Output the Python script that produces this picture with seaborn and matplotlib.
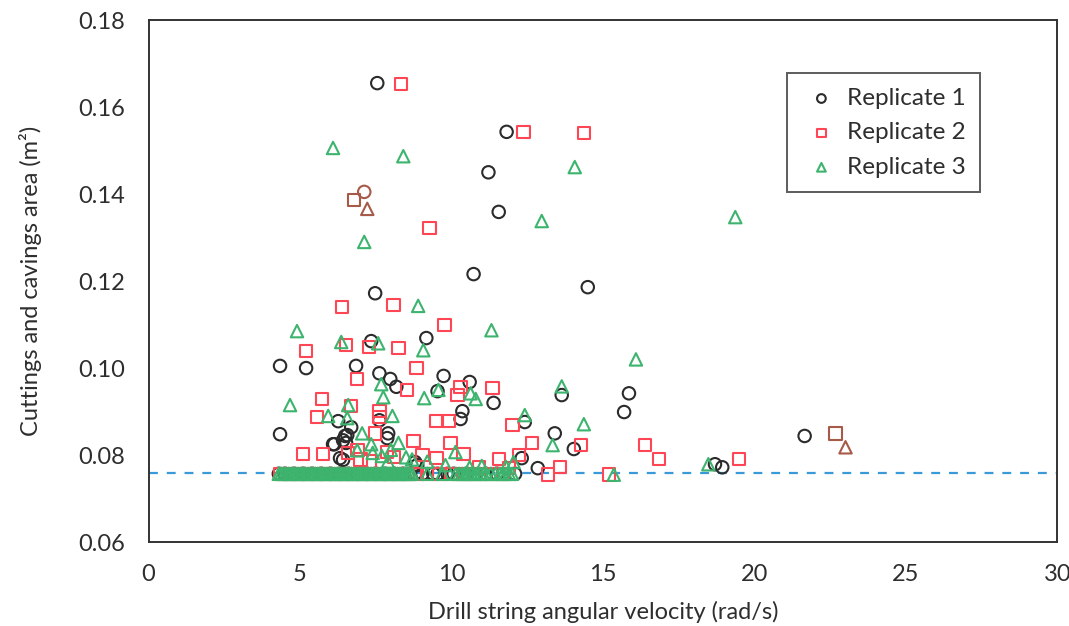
import numpy as np
import pandas as pd
import seaborn as sns
import matplotlib.pyplot as plt
from matplotlib.ticker import MultipleLocator

# --- data ---
rep1_x = [7.55, 11.82, 11.22, 11.56, 10.73, 7.48, 14.5, 7.35, 9.17, 4.34, 5.2, 6.85,
          7.62, 7.98, 8.18, 9.74, 9.54, 10.6, 11.39, 13.64, 15.86, 15.7, 6.26, 6.69,
          7.62, 7.88, 6.49, 6.52, 6.13, 10.3, 10.36, 4.34, 6.42, 8.8, 12.42, 13.41,
          14.04, 12.32, 12.85, 21.66, 18.7, 18.94, 6.09, 6.42, 6.56, 7.91, 8.87, 6.32]
rep1_y = [0.1655, 0.1543, 0.1450, 0.1359, 0.1216, 0.1172, 0.1186, 0.1062, 0.1069, 0.1005, 0.1000, 0.1005,
          0.0988, 0.0975, 0.0957, 0.0982, 0.0947, 0.0968, 0.0920, 0.0938, 0.0942, 0.0899, 0.0878, 0.0864,
          0.0880, 0.0839, 0.0844, 0.0828, 0.0825, 0.0883, 0.0901, 0.0848, 0.0789, 0.0784, 0.0876, 0.0850,
          0.0814, 0.0793, 0.0770, 0.0844, 0.0779, 0.0772, 0.0825, 0.0834, 0.0846, 0.0850, 0.0777, 0.0793]

rep2_x = [8.34, 12.38, 14.37, 9.27, 6.39, 8.08, 9.77, 6.52, 7.28, 8.25, 5.2, 8.84,
          6.89, 8.54, 10.3, 10.2, 11.36, 5.73, 5.56, 6.69, 7.62, 7.62, 7.48, 8.74,
          9.5, 9.9, 9.97, 10.4, 5.1, 5.76, 6.59, 7.88, 9.04, 9.5, 10.9, 12.02,
          12.65, 14.27, 16.39, 16.85, 19.5, 13.18, 15.2, 13.58, 12.22, 11.56, 7.0, 7.3,
          8.1, 6.9, 11.9]
rep2_y = [0.1653, 0.1543, 0.1540, 0.1322, 0.1140, 0.1145, 0.1099, 0.1053, 0.1048, 0.1046, 0.1039, 0.1000,
          0.0975, 0.0950, 0.0957, 0.0938, 0.0954, 0.0929, 0.0887, 0.0913, 0.0901, 0.0887, 0.0850, 0.0832,
          0.0878, 0.0878, 0.0828, 0.0802, 0.0802, 0.0802, 0.0805, 0.0807, 0.0800, 0.0793, 0.0773, 0.0869,
          0.0828, 0.0823, 0.0823, 0.0791, 0.0791, 0.0755, 0.0755, 0.0773, 0.0800, 0.0791, 0.0790, 0.0785,
          0.0795, 0.0812, 0.0770]

rep3_x = [6.09, 8.41, 14.07, 12.98, 19.37, 7.12, 8.9, 4.9, 11.32, 6.36, 7.58, 9.07,
          7.68, 7.75, 9.57, 9.1, 10.63, 10.8, 4.67, 5.93, 6.59, 6.56, 8.05, 7.05,
          8.25, 7.35, 10.13, 6.89, 9.8, 13.64, 16.09, 12.42, 14.37, 13.34, 18.48, 15.36,
          12.05, 7.4, 7.7, 8.0, 8.5, 8.7, 9.2, 7.9, 11.0, 11.8, 10.6]
rep3_y = [0.1506, 0.1487, 0.1462, 0.1338, 0.1347, 0.1290, 0.1143, 0.1085, 0.1087, 0.1060, 0.1057, 0.1041,
          0.0963, 0.0933, 0.0950, 0.0931, 0.0942, 0.0929, 0.0915, 0.0890, 0.0915, 0.0885, 0.0890, 0.0850,
          0.0828, 0.0825, 0.0807, 0.0811, 0.0777, 0.0958, 0.1020, 0.0892, 0.0871, 0.0823, 0.0779, 0.0755,
          0.0784, 0.0805, 0.0798, 0.0812, 0.0795, 0.0790, 0.0785, 0.0785, 0.0775, 0.0773, 0.0772]

# points sitting on the lower limit (the dense band)
floor_y = 0.0757
rep1_floor_x = [4.3, 4.5, 4.8, 5.1, 5.4, 5.7, 6.0, 6.3, 6.6, 6.9, 7.2, 7.5, 7.8, 8.1,
                8.4, 8.8, 9.04, 9.4, 9.54, 9.87, 10.07, 10.5, 11.13, 11.5, 12.1]
rep2_floor_x = [4.35, 4.65, 4.95, 5.25, 5.55, 5.85, 6.15, 6.45, 6.75, 7.05, 7.35, 7.65,
                7.95, 8.25, 8.55, 8.85, 9.2, 9.6, 10.0, 10.4, 10.8, 11.3, 11.7]
rep3_floor_x = [4.3, 4.38, 4.46, 4.54, 4.62, 4.7, 4.78, 4.86, 4.94, 5.02, 5.1, 5.18,
                5.26, 5.34, 5.42, 5.5, 5.58, 5.66, 5.74, 5.82, 5.9, 5.98, 6.06, 6.14,
                6.22, 6.3, 6.38, 6.46, 6.54, 6.62, 6.7, 6.78, 6.86, 6.94, 7.02, 7.1,
                7.18, 7.26, 7.34, 7.42, 7.5, 7.58, 7.66, 7.74, 7.82, 7.9, 7.98, 8.06,
                8.14, 8.22, 8.3, 8.38, 8.46, 8.54, 8.62, 8.7, 9.2, 9.7, 10.15, 10.25,
                10.35, 10.45, 10.55, 10.65, 10.75, 10.85, 10.95, 11.05, 11.15, 11.3,
                11.45, 11.6, 11.7, 11.8, 11.9, 12.0]

# brown highlighted points
hl_x = [7.12, 6.79, 7.22, 22.68, 23.01]
hl_y = [0.1405, 0.1386, 0.1366, 0.0850, 0.0818]
hl_marker = ['o', 's', '^', 's', '^']

limit_y = 0.076

labels = ['Replicate 1', 'Replicate 2', 'Replicate 3']
colors = ['#2b2b2b', '#ff4655', '#3cb46e']
markers = ['o', 's', '^']
brown = '#a85a48'
text_col = '#2e2e2e'

sns.set_style('white')
plt.rcParams['font.family'] = ['Lato', 'DejaVu Sans']

fig = plt.figure(figsize=(10.69, 6.26), dpi=100)
ax = fig.add_axes([0.139, 0.134, 0.85, 0.834])

ax.axhline(limit_y, color='#3a9ad9', lw=1.6, ls=(0, (4, 4)), zorder=1)

series = [
    (rep1_x + rep1_floor_x, rep1_y + [floor_y] * len(rep1_floor_x)),
    (rep2_x + rep2_floor_x, rep2_y + [floor_y] * len(rep2_floor_x)),
    (rep3_x + rep3_floor_x, rep3_y + [floor_y] * len(rep3_floor_x)),
]
for (xs, ys), lab, col, mk in zip(series, labels, colors, markers):
    df = pd.DataFrame({'omega': xs, 'area': ys})
    sns.scatterplot(data=df, x='omega', y='area', ax=ax, marker=mk, s=80,
                    facecolors='none', edgecolor=col, linewidth=1.5,
                    label=lab, zorder=3)

hl = pd.DataFrame({'omega': hl_x, 'area': hl_y, 'mk': hl_marker})
for mk, sub in hl.groupby('mk'):
    sns.scatterplot(data=sub, x='omega', y='area', ax=ax, marker=mk, s=80,
                    facecolors='none', edgecolor=brown, linewidth=1.5,
                    label='_nolegend_', zorder=4)

ax.set_xlim(0, 30)
ax.set_ylim(0.06, 0.18)
ax.xaxis.set_major_locator(MultipleLocator(5))
ax.xaxis.set_minor_locator(MultipleLocator(2.5))
ax.yaxis.set_major_locator(MultipleLocator(0.02))
ax.yaxis.set_minor_locator(MultipleLocator(0.01))
ax.yaxis.set_major_formatter(plt.FuncFormatter(lambda v, p: f'{v:.2f}'))
ax.tick_params(which='both', direction='in', length=6, width=1.2, color='#333333',
               labelsize=17, labelcolor=text_col)
ax.tick_params(axis='x', pad=16)
ax.tick_params(axis='y', pad=17)

for sp in ax.spines.values():
    sp.set_color('#333333')
    sp.set_linewidth(1.4)

ax.set_xlabel('Drill string angular velocity (rad/s)', fontsize=17, color=text_col, labelpad=11)
ax.set_ylabel('Cuttings and cavings area (m²)', fontsize=17, color=text_col, labelpad=26)

leg = ax.legend(loc='upper left', bbox_to_anchor=(0.703, 0.898), borderaxespad=0,
                fontsize=17.5, frameon=True, fancybox=False, markerscale=0.7,
                handletextpad=0.25, labelspacing=0.55, borderpad=0.6, handlelength=1.6)
leg.get_frame().set_edgecolor('#333333')
leg.get_frame().set_linewidth(1.4)
for t in leg.get_texts():
    t.set_color(text_col)

plt.savefig('out.png', dpi=100)
